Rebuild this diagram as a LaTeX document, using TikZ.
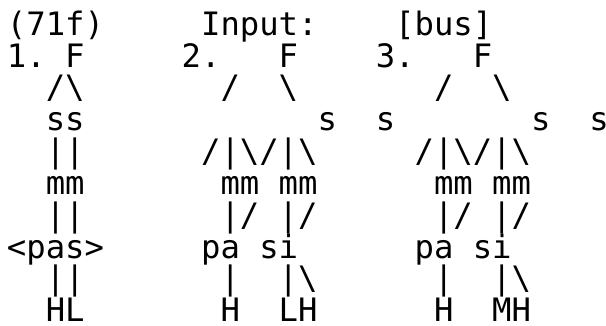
\documentclass[tikz,border=0pt]{standalone}
\usepackage{fontspec}
\setmonofont{DejaVu Sans Mono}
\newcommand{\bs}{\textbackslash}
\tikzset{
  glyph/.style={anchor=base west, inner sep=0pt, outer sep=0pt,
    font=\fontsize{32.24}{32.24}\selectfont\ttfamily}
}
\begin{document}
% one unit of x = one character cell, one unit of y = one text line (downwards)
\begin{tikzpicture}[x=19.41pt, y=-31.83pt]
\fill[white] (-0.3606,-1.1059) rectangle (30.861,9.136);
\useasboundingbox (-0.3606,-1.1059) rectangle (30.861,9.136);
% header line
\node[glyph] (r0a) at (0,0) {(71f)};
\node[glyph] (r0b) at (10,0) {Input:};
\node[glyph] (r0c) at (20,0) {[bus]};
% root feet
\node[glyph] (r1a) at (0,1) {1.};
\node[glyph] (r1b) at (3,1) {F};
\node[glyph] (r1c) at (9,1) {2.};
\node[glyph] (r1d) at (14,1) {F};
\node[glyph] (r1e) at (19,1) {3.};
\node[glyph] (r1f) at (24,1) {F};
% branches below F
\node[glyph] (r2a) at (2,2) {/\bs};
\node[glyph] (r2b) at (11,2) {/};
\node[glyph] (r2c) at (14,2) {\bs};
\node[glyph] (r2d) at (22,2) {/};
\node[glyph] (r2e) at (25,2) {\bs};
% syllables
\node[glyph] (r3a) at (2,3) {ss};
\node[glyph] (r3b) at (16,3) {s};
\node[glyph] (r3c) at (19,3) {s};
\node[glyph] (r3d) at (27,3) {s};
\node[glyph] (r3e) at (30,3) {s};
% syllable to mora links
\node[glyph] (r4a) at (2,4) {||};
\node[glyph] (r4b) at (10,4) {/|\bs/|\bs};
\node[glyph] (r4c) at (21,4) {/|\bs/|\bs};
% moras
\node[glyph] (r5a) at (2,5) {mm};
\node[glyph] (r5b) at (11,5) {mm};
\node[glyph] (r5c) at (14,5) {mm};
\node[glyph] (r5d) at (22,5) {mm};
\node[glyph] (r5e) at (25,5) {mm};
% mora to segment links
\node[glyph] (r6a) at (2,6) {||};
\node[glyph] (r6b) at (11,6) {|/};
\node[glyph] (r6c) at (14,6) {|/};
\node[glyph] (r6d) at (22,6) {|/};
\node[glyph] (r6e) at (25,6) {|/};
% segments
\node[glyph] (r7a) at (0,7) {<pas>};
\node[glyph] (r7b) at (10,7) {pa};
\node[glyph] (r7c) at (13,7) {si};
\node[glyph] (r7d) at (21,7) {pa};
\node[glyph] (r7e) at (24,7) {si};
% tone links
\node[glyph] (r8a) at (2,8) {||};
\node[glyph] (r8b) at (11,8) {|};
\node[glyph] (r8c) at (14,8) {|\bs};
\node[glyph] (r8d) at (22,8) {|};
\node[glyph] (r8e) at (25,8) {|\bs};
% tones
\node[glyph] (r9a) at (2,9) {HL};
\node[glyph] (r9b) at (11,9) {H};
\node[glyph] (r9c) at (14,9) {LH};
\node[glyph] (r9d) at (22,9) {H};
\node[glyph] (r9e) at (25,9) {MH};
\end{tikzpicture}
\end{document}
